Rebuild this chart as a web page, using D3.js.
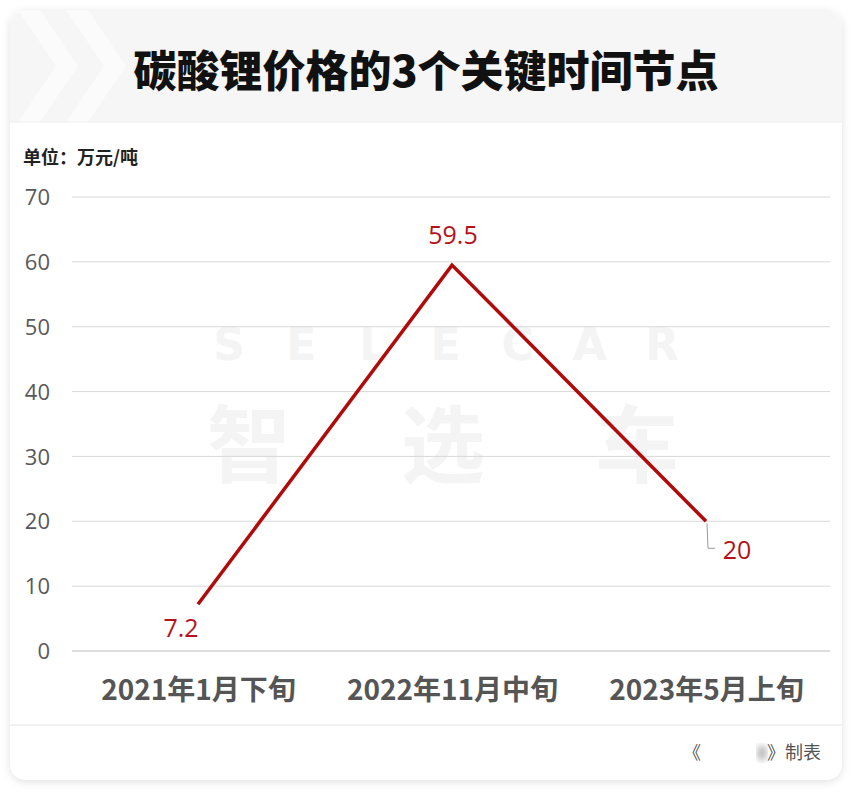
<!DOCTYPE html>
<html><head><meta charset="utf-8">
<script src="https://cdn.jsdelivr.net/npm/d3@7"></script>
<style>
html,body{margin:0;padding:0;background:#fff;}
svg{display:block;}
</style></head>
<body>
<svg id="chart" width="852" height="803"></svg>
<script>
const categories = ["2021年1月下旬", "2022年11月中旬", "2023年5月上旬"];
const prices = [7.2, 59.5, 20];
const yTicks = [0, 10, 20, 30, 40, 50, 60, 70];
const title = "碳酸锂价格的3个关键时间节点";
const unitLabel = "单位：万元/吨";
const watermarkLetters = ["S","E","L","E","C","A","R"];
const watermarkChars = ["智","选","车"];

const svg = d3.select("#chart");
const font = "'Noto Sans CJK SC', 'Noto Sans', sans-serif";
const numFont = "'Open Sans', 'Noto Sans', sans-serif";

const defs = svg.append("defs");
const f = defs.append("filter").attr("id","sh").attr("x","-5%").attr("y","-5%").attr("width","110%").attr("height","110%");
f.append("feDropShadow").attr("dx",0).attr("dy",2).attr("stdDeviation",4).attr("flood-color","#000").attr("flood-opacity",0.12);
defs.append("filter").attr("id","blur").append("feGaussianBlur").attr("stdDeviation",3);
const clip = defs.append("clipPath").attr("id","cardclip");
clip.append("rect").attr("x",10).attr("y",10).attr("width",832).attr("height",770).attr("rx",16);

// card
svg.append("rect").attr("x",10).attr("y",10).attr("width",832).attr("height",770).attr("rx",16)
  .attr("fill","#fff").attr("filter","url(#sh)");

const cardG = svg.append("g").attr("clip-path","url(#cardclip)");
cardG.append("rect").attr("x",10).attr("y",10).attr("width",832).attr("height",112).attr("fill","#f6f6f6");
[18,66].forEach(x0=>{
  cardG.append("path")
    .attr("d",`M${x0},10 L${x0+22},10 L${x0+60},66 L${x0+22},122 L${x0},122 L${x0+38},66 Z`)
    .attr("fill","#fbfbfb");
});
cardG.append("line").attr("x1",10).attr("x2",842).attr("y1",122).attr("y2",122).attr("stroke","#eeeeee");

svg.append("text").attr("x",426).attr("y",87).attr("text-anchor","middle")
  .attr("font-family",font).attr("font-weight",900).attr("font-size",43).attr("fill","#111")
  .text(title);

svg.append("text").attr("x",23).attr("y",164).attr("font-family",font).attr("font-weight",700)
  .attr("font-size",18).attr("fill","#222").text(unitLabel);

// watermark
const wmL = d3.scalePoint().domain(d3.range(watermarkLetters.length)).range([229, 662]);
svg.selectAll(".wml").data(watermarkLetters).join("text").attr("class","wml")
  .attr("x",(d,i)=>wmL(i)).attr("y",360).attr("text-anchor","middle")
  .attr("font-family","'DejaVu Sans', sans-serif").attr("font-weight",700).attr("font-size",44).attr("fill","#f4f4f4")
  .text(d=>d);
const wmC = d3.scalePoint().domain(d3.range(watermarkChars.length)).range([249, 637]);
svg.selectAll(".wmc").data(watermarkChars).join("text").attr("class","wmc")
  .attr("x",(d,i)=>wmC(i)).attr("y",476).attr("text-anchor","middle")
  .attr("font-family",font).attr("font-weight",700).attr("font-size",84).attr("fill","#f4f4f4")
  .text(d=>d);

// scales
const x = d3.scalePoint().domain(categories).range([198, 706]);
const y = d3.scaleLinear().domain([0, 70]).range([651, 197]);

// grid
svg.append("g").selectAll("line").data(yTicks).join("line")
  .attr("x1",72).attr("x2",830).attr("y1",d=>y(d)).attr("y2",d=>y(d))
  .attr("stroke",d=>d===0?"#d0d0d0":"#d9d9d9").attr("stroke-width",d=>d===0?1.5:1);

// y axis
const yAxis = svg.append("g").attr("transform","translate(50,0)")
  .call(d3.axisLeft(y).tickValues(yTicks).tickSize(0).tickPadding(0));
yAxis.select(".domain").remove();
yAxis.selectAll("text").attr("font-family",numFont).attr("font-size",22)
  .attr("fill","#595959").attr("dy","0.35em");

// x axis
const xAxis = svg.append("g").attr("transform","translate(0,690)")
  .call(d3.axisBottom(x).tickSize(0).tickPadding(0));
xAxis.select(".domain").remove();
xAxis.selectAll("text").attr("font-family",font).attr("font-weight",700).attr("font-size",28)
  .attr("fill","#555").attr("dy","0.35em");

// line
const line = d3.line().x((d,i)=>x(categories[i])).y(d=>y(d));
svg.append("path").datum(prices).attr("d",line).attr("fill","none")
  .attr("stroke","#b00a0a").attr("stroke-width",3.5).attr("stroke-linejoin","miter");

// labels
const labelOffsets = [[-17, 33],[1,-21],[31,38]];
svg.selectAll(".lbl").data(prices).join("text").attr("class","lbl")
  .attr("x",(d,i)=>x(categories[i])+labelOffsets[i][0])
  .attr("y",(d,i)=>y(d)+labelOffsets[i][1])
  .attr("text-anchor","middle")
  .attr("font-family",numFont).attr("font-size",25)
  .attr("fill","#b5121b").text(d=>d);

// leader line for last point
const lx = x(categories[2]), ly = y(prices[2]);
svg.append("path").attr("d",`M${lx+1},${ly+2} L${lx+2},${ly+27} L${lx+9},${ly+27}`)
  .attr("fill","none").attr("stroke","#999").attr("stroke-width",1);

// footer
svg.append("line").attr("x1",10).attr("x2",842).attr("y1",725).attr("y2",725).attr("stroke","#e3e3e3");
svg.append("ellipse").attr("cx",762).attr("cy",753).attr("rx",5).attr("ry",8).attr("fill","#bbb").attr("filter","url(#blur)");
svg.append("text").attr("x",683).attr("y",759)
  .attr("font-family",font).attr("font-size",18).attr("fill","#555").text("《");
svg.append("text").attr("x",821).attr("y",759).attr("text-anchor","end")
  .attr("font-family",font).attr("font-size",18).attr("fill","#555").text("》制表");
</script>
</body></html>
